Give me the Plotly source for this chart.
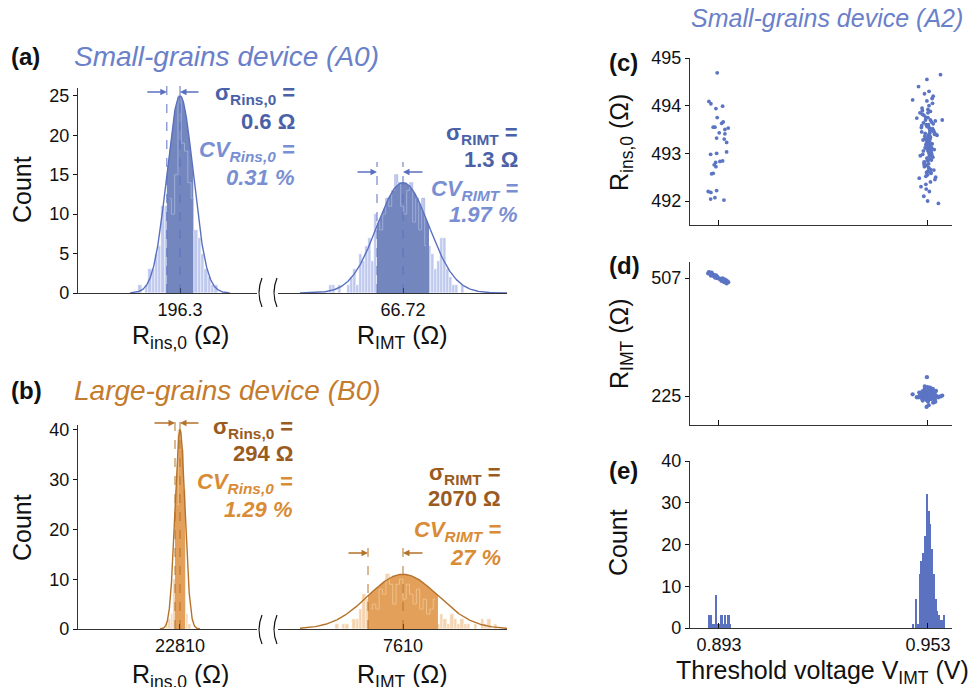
import numpy as np
import plotly.graph_objects as go

W, H = 969, 687
def X(p): return p / W
def Y(p): return 1 - p / H

FONT = "Liberation Sans, Arial, sans-serif"

BLUE_TITLE = "#6a80c9"; BLUE_SIG = "#4a61a8"; BLUE_CV = "#7a8fd3"
BLUE_LIGHT = "#bfc9ee"; BLUE_DARK = "#7387be"; BLUE_LINE = "#5a70bf"
BLUE_STEP = "#a9b6e2"; BLUE_PT = "#5b74c4"
OR_TITLE = "#c47b2c"; OR_SIG = "#9a5b1f"; OR_CV = "#d98b35"
OR_LIGHT = "#f5d5b1"; OR_DARK = "#e3a05b"; OR_LINE = "#b5722a"; OR_STEP = "#f3c995"
AX = "#333333"

# ---------------- (a) small grains A0 ----------------
a_ins_mean, a_ins_sigma, a_ins_peak = 196.3, 0.6, 25
a_ins_binw = 0.15
a_ins_centers = [194.48, 194.63, 194.78, 194.93, 195.08, 195.23, 195.38, 195.53, 195.68, 195.83,
                 195.98, 196.13, 196.28, 196.43, 196.58, 196.73, 196.88, 197.03, 197.18, 197.33,
                 197.48, 197.63, 197.78, 197.93, 198.08]
a_ins_counts = [1, 0, 1, 3, 3, 5, 6, 11, 11, 12, 10, 15, 25, 19, 18, 14, 12, 8, 7, 5, 3, 2, 1, 1, 0]

a_imt_mean, a_imt_sigma, a_imt_peak = 66.72, 1.3, 14
a_imt_binw = 0.15
a_imt_centers = [63.08, 63.23, 63.38, 63.53, 63.68, 63.83, 63.98, 64.13, 64.28, 64.43,
                 64.58, 64.73, 64.88, 65.03, 65.18, 65.33, 65.48, 65.63, 65.78, 65.93,
                 66.08, 66.23, 66.38, 66.53, 66.68, 66.83, 66.98, 67.13, 67.28, 67.43,
                 67.58, 67.73, 67.88, 68.03, 68.18, 68.33, 68.48, 68.63, 68.78, 68.93,
                 69.08, 69.23, 69.38, 69.53, 69.68]
a_imt_counts = [1, 1, 0, 1, 0, 0, 1, 2, 3, 1, 5, 4, 6, 7, 4, 10, 9, 8, 10, 12,
                11, 13, 15, 14, 11, 10, 13, 14, 9, 12, 8, 12, 6, 6, 5, 3, 4, 7, 7, 3,
                2, 1, 1, 0, 1]

# ---------------- (b) large grains B0 ----------------
b_ins_mean, b_ins_sigma, b_ins_peak = 22810, 294, 40
b_ins_binw = 150
b_ins_centers = [22035, 22185, 22335, 22485, 22635, 22785, 22935, 23085, 23235, 23385, 23535]
b_ins_counts = [1, 2, 3, 10, 25, 40, 36, 28, 3, 1, 0]

b_imt_mean, b_imt_sigma, b_imt_peak = 7610, 2070, 11
b_imt_binw = 200
b_imt_centers = [3700, 3900, 4100, 4300, 4500, 4700, 4900, 5100, 5300, 5500,
                 5700, 5900, 6100, 6300, 6500, 6700, 6900, 7100, 7300, 7500,
                 7700, 7900, 8100, 8300, 8500, 8700, 8900, 9100, 9300, 9500,
                 9700, 9900, 10100, 10300, 10500, 10700, 10900, 11100, 11300, 11500,
                 11700, 11900, 12100, 12300, 12500, 12700, 12900, 13100]
b_imt_counts = [1, 0, 1, 1, 0, 2, 2, 4, 7, 6, 4, 5, 4, 8, 7, 11, 9, 5, 9, 10,
                6, 9, 7, 5, 8, 4, 6, 3, 4, 6, 1, 3, 2, 1, 3, 2, 1, 2, 1, 1,
                0, 1, 0, 2, 1, 2, 0, 1]

# stats text
a_ins_txt = ["0.6 Ω", "0.31 %"]
a_imt_txt = ["1.3 Ω", "1.97 %"]
b_ins_txt = ["294 Ω", "1.29 %"]
b_imt_txt = ["2070 Ω", "27 %"]

# ---------------- (c)(d)(e) small grains A2 ----------------
v_left = [0.89251, 0.89013, 0.89070, 0.89214, 0.89406, 0.89251, 0.89185, 0.89423, 0.89378, 0.89567,
          0.89472, 0.89136, 0.89309, 0.89472, 0.89234, 0.89452, 0.89521, 0.89521, 0.89062, 0.89234,
          0.89205, 0.89165, 0.89329, 0.89406, 0.89214, 0.89136, 0.89090, 0.88993, 0.89070, 0.89234,
          0.89062, 0.89185, 0.89444]
rins_left = [494.69, 494.09, 494.04, 493.94, 493.99, 493.75, 493.55, 493.66, 493.63, 493.53,
             493.50, 493.55, 493.43, 493.41, 493.32, 493.30, 493.23, 493.03, 492.98, 493.00,
             492.81, 492.76, 492.83, 492.84, 492.72, 492.58, 492.57, 492.20, 492.18, 492.22,
             492.04, 492.07, 492.02]
rimt_left = [509, 521, 516, 513, 502, 507, 512, 504, 500, 497, 499, 515, 506, 503, 511, 497, 501,
             494, 519, 508, 510, 514, 504, 506, 509, 512, 520, 518, 513, 510, 517, 508, 500]

v_right = [0.9512, 0.9534, 0.9528, 0.9545, 0.9521, 0.9538, 0.9530, 0.9517, 0.9549, 0.9526,
           0.9533, 0.9541, 0.9508, 0.9527, 0.9536, 0.9552, 0.9523, 0.9531, 0.9519, 0.9544,
           0.9529, 0.9537, 0.9514, 0.9540, 0.9525, 0.9532, 0.9556, 0.9520, 0.9535, 0.9527,
           0.9543, 0.9510, 0.9530, 0.9538, 0.9522, 0.9547, 0.9533, 0.9516, 0.9529, 0.9540,
           0.9524, 0.9536, 0.9503, 0.9531, 0.9550, 0.9527, 0.9539, 0.9518, 0.9534, 0.9545,
           0.9526, 0.9532, 0.9513, 0.9541, 0.9529, 0.9537, 0.9521, 0.9560, 0.9530, 0.9535,
           0.9515, 0.9542, 0.9528, 0.9533, 0.9507, 0.9538, 0.9524, 0.9548, 0.9531, 0.9519,
           0.9536, 0.9527, 0.9544, 0.9511, 0.9532, 0.9539, 0.9523, 0.9553, 0.9529, 0.9535,
           0.9517, 0.9540, 0.9526, 0.9533, 0.9546, 0.9520, 0.9537, 0.9530, 0.9505, 0.9542,
           0.9528, 0.9534, 0.9514, 0.9539, 0.9525, 0.9551, 0.9531, 0.9518, 0.9536, 0.9543,
           0.9522, 0.9530, 0.9566, 0.9527, 0.9538, 0.9512, 0.9533, 0.9545, 0.9524, 0.9535,
           0.9498, 0.9541, 0.9529, 0.9519, 0.9537, 0.9571, 0.9532, 0.9526, 0.9486, 0.9548]
rins_right = [493.45, 493.10, 492.85, 493.62, 493.30, 492.60, 493.85, 493.05, 493.40, 492.75,
              493.55, 493.20, 492.95, 494.10, 493.35, 492.50, 493.70, 493.15, 492.80, 493.48,
              493.25, 492.40, 493.90, 493.00, 493.60, 492.70, 493.38, 494.25, 493.12, 492.90,
              493.52, 492.30, 493.75, 493.08, 493.42, 492.65, 494.00, 493.28, 492.55, 493.66,
              493.18, 492.88, 494.40, 493.33, 492.45, 493.58, 493.02, 493.80, 492.20, 493.47,
              493.22, 492.78, 493.95, 493.11, 492.62, 493.70, 493.36, 491.95, 493.05, 493.50,
              492.98, 494.15, 493.26, 492.68, 493.85, 493.14, 492.35, 493.44, 493.60, 492.82,
              493.30, 494.55, 492.92, 493.54, 493.16, 492.58, 493.76, 493.40, 492.00, 493.24,
              493.64, 492.86, 493.10, 494.30, 493.48, 492.72, 493.34, 493.92, 492.48, 493.20,
              493.56, 492.94, 493.82, 493.06, 492.25, 493.68, 493.38, 492.10, 493.46, 494.05,
              493.12, 492.84, 494.65, 493.28, 492.66, 493.58, 493.00, 494.20, 492.52, 493.42,
              493.74, 492.96, 493.32, 492.76, 493.88, 493.70, 493.18, 492.60, 494.12, 493.08]
rimt_right = [229, 224, 233, 221, 230, 236, 226, 219, 231, 227,
              223, 238, 228, 215, 232, 225, 220, 234, 229, 242,
              226, 222, 231, 218, 235, 228, 224, 240, 227, 221,
              233, 230, 212, 226, 237, 223, 229, 219, 232, 225,
              228, 245, 222, 230, 216, 234, 227, 224, 231, 209,
              229, 236, 220, 226, 233, 225, 248, 222, 230, 227,
              214, 232, 226, 239, 223, 229, 231, 218, 235, 224,
              228, 221, 234, 227, 203, 230, 225, 237, 222, 229,
              232, 226, 219, 243, 228, 224, 231, 217, 233, 227,
              225, 230, 236, 221, 229, 211, 234, 226, 223, 238,
              228, 231, 224, 270, 227, 220, 233, 229, 225, 235,
              222, 230, 246, 228, 218, 226, 232, 199, 229, 224]

e_binw = 0.0005
e_centers = [0.8903, 0.8908, 0.8913, 0.8918, 0.8923, 0.8928, 0.8933, 0.8938, 0.8943, 0.8948,
             0.8953, 0.8958, 0.8963,
             0.9487, 0.9492, 0.9497, 0.9502, 0.9507, 0.9512, 0.9517, 0.9522, 0.9527, 0.9532,
             0.9537, 0.9542, 0.9547, 0.9552, 0.9557, 0.9562, 0.9567, 0.9572, 0.9577]
e_counts = [3, 3, 1, 1, 8, 1, 1, 3, 1, 3, 1, 3, 1,
            1, 0, 7, 1, 13, 16, 18, 22, 32, 28, 25, 19, 13, 7, 4, 3, 2, 2, 3]

v_ticks = [0.893, 0.953]

fig = go.Figure()

panels = [
    dict(xa="x", ya="y", c=a_ins_centers, n=a_ins_counts, w=a_ins_binw, mu=a_ins_mean, sd=a_ins_sigma,
         amp=a_ins_peak, glo=a_ins_mean - 2.27, ghi=a_ins_mean + 2.27, light=BLUE_LIGHT, dark=BLUE_DARK,
         line=BLUE_LINE, step=BLUE_STEP, base=293, top=82, arr=92, al=-21, ar=20),
    dict(xa="x2", ya="y2", c=a_imt_centers, n=a_imt_counts, w=a_imt_binw, mu=a_imt_mean, sd=a_imt_sigma,
         amp=a_imt_peak, glo=61.57, ghi=71.92, light=BLUE_LIGHT, dark=BLUE_DARK,
         line=BLUE_LINE, step=BLUE_STEP, base=293, top=162, arr=172, al=-21, ar=21),
    dict(xa="x3", ya="y3", c=b_ins_centers, n=b_ins_counts, w=b_ins_binw, mu=b_ins_mean, sd=b_ins_sigma,
         amp=b_ins_peak, glo=b_ins_mean - 1180, ghi=b_ins_mean + 1180, light=OR_LIGHT, dark=OR_DARK,
         line=OR_LINE, step=OR_STEP, base=629, top=419, arr=423, al=-22, ar=20),
    dict(xa="x4", ya="y4", c=b_imt_centers, n=b_imt_counts, w=b_imt_binw, mu=b_imt_mean, sd=b_imt_sigma,
         amp=b_imt_peak, glo=1515, ghi=13764, light=OR_LIGHT, dark=OR_DARK,
         line=OR_LINE, step=OR_STEP, base=629, top=539, arr=553, al=-21, ar=21),
]

shapes = []
annotations = []

for p in panels:
    fig.add_bar(x=p["c"], y=p["n"], width=p["w"], xaxis=p["xa"], yaxis=p["ya"],
                marker=dict(color=p["light"], line=dict(color="white", width=0.4)))
    mu, sd, amp = p["mu"], p["sd"], p["amp"]
    xs = np.linspace(mu - sd, mu + sd, 100)
    fig.add_scatter(x=xs, y=amp * np.exp(-0.5 * ((xs - mu) / sd) ** 2), mode="lines",
                    fill="tozeroy", fillcolor=p["dark"], line=dict(width=0, color=p["dark"]),
                    xaxis=p["xa"], yaxis=p["ya"])
    c = np.array(p["c"], dtype=float); n = np.array(p["n"], dtype=float)
    m = (c >= mu - sd) & (c <= mu + sd)
    fig.add_scatter(x=c[m], y=n[m], mode="lines", line=dict(color=p["step"], width=1, shape="hvh"),
                    opacity=0.8, xaxis=p["xa"], yaxis=p["ya"])
    xg = np.linspace(p["glo"], p["ghi"], 400)
    fig.add_scatter(x=xg, y=amp * np.exp(-0.5 * ((xg - mu) / sd) ** 2), mode="lines",
                    line=dict(color=p["line"], width=1.4), xaxis=p["xa"], yaxis=p["ya"])
    for xv in (mu - sd, mu):
        shapes.append(dict(type="line", xref=p["xa"], yref="paper", x0=xv, x1=xv,
                           y0=Y(p["base"]), y1=Y(p["top"]),
                           line=dict(color=p["line"], width=1, dash="dash")))
    annotations.append(dict(x=mu - sd, y=Y(p["arr"]), xref=p["xa"], yref="paper", text="",
                            showarrow=True, ax=p["al"], ay=0, arrowhead=2, arrowsize=1,
                            arrowwidth=1.3, arrowcolor=p["line"], standoff=0))
    annotations.append(dict(x=mu, y=Y(p["arr"]), xref=p["xa"], yref="paper", text="",
                            showarrow=True, ax=p["ar"], ay=0, arrowhead=2, arrowsize=1,
                            arrowwidth=1.3, arrowcolor=p["line"], standoff=0))

fig.add_scatter(x=v_left + v_right, y=rins_left + rins_right, mode="markers",
                marker=dict(color=BLUE_PT, size=3.8), xaxis="x5", yaxis="y5")
fig.add_scatter(x=v_left + v_right, y=rimt_left + rimt_right, mode="markers",
                marker=dict(color=BLUE_PT, size=4.3), xaxis="x6", yaxis="y6")
fig.add_bar(x=e_centers, y=e_counts, width=e_binw, marker=dict(color="#5a72c0", line=dict(width=0)),
            xaxis="x7", yaxis="y7")

common = dict(showgrid=False, zeroline=False, showline=True, linecolor=AX, linewidth=1.2,
              tickcolor="#111", tickwidth=1.2, automargin=False,
              tickfont=dict(size=18, color="#111", family=FONT))

def xax(d0, d1, rng, anchor, tv, tt=None, labels=True):
    return dict(common, domain=[X(d0), X(d1)], range=rng, anchor=anchor, ticks="inside", ticklen=5,
                tickvals=tv, ticktext=tt, showticklabels=labels)

def yax(b, t, rng, anchor, tv, visible=True):
    return dict(common, domain=[Y(b), Y(t)], range=rng, anchor=anchor, ticks="outside", ticklen=4,
                tickvals=tv, visible=visible)

fig.update_layout(
    width=W, height=H, autosize=False,
    margin=dict(l=0, r=0, t=0, b=0, pad=0, autoexpand=False),
    paper_bgcolor="white", plot_bgcolor="white", showlegend=False,
    font=dict(family=FONT, size=17, color="#111"), bargap=0, barmode="overlay",
    xaxis=xax(78, 257, [191.66, 199.8], "y", [a_ins_mean], ["196.3"]),
    yaxis=yax(293, 88, [0, 26], "x", [0, 5, 10, 15, 20, 25]),
    xaxis2=xax(278, 507, [60.47, 71.92], "y2", [a_imt_mean], ["66.72"]),
    yaxis2=yax(293, 88, [0, 26], "x2", [], visible=False),
    xaxis3=xax(78, 257, [16810, 27340], "y3", [b_ins_mean], ["22810"]),
    yaxis3=yax(629, 425, [0, 41], "x3", [0, 10, 20, 30, 40]),
    xaxis4=xax(278, 507, [214, 13764], "y4", [b_imt_mean], ["7610"]),
    yaxis4=yax(629, 425, [0, 41], "x4", [], visible=False),
    xaxis5=xax(690, 952, [0.8847, 0.9599], "y5", v_ticks, None, labels=False),
    yaxis5=yax(225, 58, [491.497, 495.0], "x5", [492, 493, 494, 495]),
    xaxis6=xax(690, 952, [0.8847, 0.9599], "y6", v_ticks, None, labels=False),
    yaxis6=yax(425, 262, [155.7, 545.3], "x6", [225, 507]),
    xaxis7=xax(690, 952, [0.8847, 0.9599], "y7", v_ticks, ["0.893", "0.953"]),
    yaxis7=yax(628, 461, [0, 40], "x7", [0, 10, 20, 30, 40]),
)

def ann(text, x, y, size, color="#111", xanchor="center", yanchor="middle", angle=0):
    return dict(text=text, x=X(x), y=Y(y), xref="paper", yref="paper", showarrow=False,
                font=dict(size=size, color=color, family=FONT), xanchor=xanchor,
                yanchor=yanchor, textangle=angle)

annotations += [
    ann("<b>(a)</b>", 9, 57, 24, "#111", "left"),
    ann("<i>Small-grains device (A0)</i>", 72, 57, 28, BLUE_TITLE, "left"),
    ann("<b>(b)</b>", 9, 390, 24, "#111", "left"),
    ann("<i>Large-grains device (B0)</i>", 72, 390, 28, OR_TITLE, "left"),
    ann("<i>Small-grains device (A2)</i>", 827, 18, 25, BLUE_TITLE),
    ann("<b>(c)</b>", 607, 63, 24, "#111", "left"),
    ann("<b>(d)</b>", 607, 265, 24, "#111", "left"),
    ann("<b>(e)</b>", 607, 470, 24, "#111", "left"),
    ann("Count", 22, 190, 25, angle=-90),
    ann("Count", 22, 528, 25, angle=-90),
    ann("Count", 618, 543, 25, angle=-90),
    ann("R<sub>ins,0</sub> (Ω)", 621, 143, 25, angle=-90),
    ann("R<sub>IMT</sub> (Ω)", 621, 344, 25, angle=-90),
    ann("R<sub>ins,0</sub> (Ω)", 180, 337, 25),
    ann("R<sub>IMT</sub> (Ω)", 402, 337, 25),
    ann("R<sub>ins,0</sub> (Ω)", 180, 676, 25),
    ann("R<sub>IMT</sub> (Ω)", 402, 676, 25),
    ann("Threshold voltage V<sub>IMT</sub> (V)", 822, 672, 25),
]

stat_blocks = [
    (297, [94, 121, 151, 178], "Rins,0", a_ins_txt, BLUE_SIG, BLUE_CV),
    (520, [134, 159, 190, 214], "RIMT", a_imt_txt, BLUE_SIG, BLUE_CV),
    (295, [428, 453, 483, 509], "Rins,0", b_ins_txt, OR_SIG, OR_CV),
    (503, [474, 499, 531, 557], "RIMT", b_imt_txt, OR_SIG, OR_CV),
]
for xr, ys, sub, txt, csig, ccv in stat_blocks:
    annotations += [
        ann(f"<b>σ<sub>{sub}</sub> =</b>", xr, ys[0], 22, csig, "right"),
        ann(f"<b>{txt[0]}</b>", xr, ys[1], 22, csig, "right"),
        ann(f"<b><i>CV<sub>{sub}</sub> =</i></b>", xr, ys[2], 22, ccv, "right"),
        ann(f"<b><i>{txt[1]}</i></b>", xr, ys[3], 22, ccv, "right"),
    ]

def break_path(cx, top, bot):
    mid = (top + bot) / 2
    return (f"M {X(cx + 2)},{Y(top)} Q {X(cx - 4)},{Y(mid)} {X(cx + 2)},{Y(bot)}")

for top, bot in [(278, 307), (615, 644)]:
    for cx in (260, 275):
        shapes.append(dict(type="path", xref="paper", yref="paper", path=break_path(cx, top, bot),
                           line=dict(color="#111", width=1.2)))

fig.update_layout(shapes=shapes, annotations=annotations)
fig.write_html("out.html", config={"displayModeBar": False, "responsive": False})

# remove the default browser page margin so the figure sits at the window's top-left corner
with open("out.html", "r", encoding="utf-8") as f:
    html = f.read()
html = html.replace("<head>", "<head><style>html,body{margin:0;padding:0;overflow:hidden;}</style>", 1)
with open("out.html", "w", encoding="utf-8") as f:
    f.write(html)
